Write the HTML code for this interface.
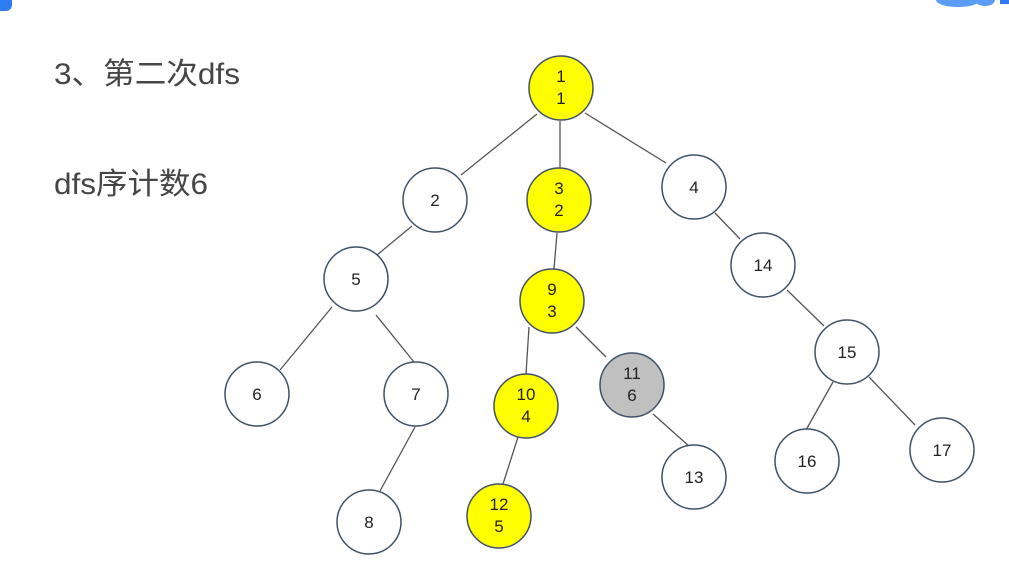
<!DOCTYPE html>
<html><head><meta charset="utf-8"><style>
html,body{margin:0;padding:0;background:#fff;width:1009px;height:586px;overflow:hidden}
svg{display:block}
</style></head><body>
<svg width="1009" height="586" viewBox="0 0 1009 586" xmlns="http://www.w3.org/2000/svg">
<rect x="-10" y="-10" width="22" height="21" rx="6" fill="#2f7cf0"/>
<ellipse cx="958" cy="0" rx="22" ry="7" fill="#5b9df5"/>
<ellipse cx="985" cy="0" rx="10" ry="6" fill="#5b9df5"/>
<rect x="1000" y="0" width="9" height="4" fill="#2f7cf0"/>
<g font-family="'Liberation Sans','Noto Sans CJK SC',sans-serif" font-size="30" fill="#454545">
<text x="54" y="84" textLength="186" lengthAdjust="spacingAndGlyphs">3、第二次dfs</text>
<text x="54" y="194" textLength="154" lengthAdjust="spacingAndGlyphs">dfs序计数6</text>
</g>
<g stroke="#555" stroke-width="1.3">
<line x1="537" y1="114" x2="461" y2="175"/>
<line x1="560" y1="121" x2="560" y2="168"/>
<line x1="585" y1="113" x2="666" y2="163"/>
<line x1="412" y1="226" x2="377" y2="255"/>
<line x1="557" y1="233" x2="554" y2="269"/>
<line x1="715" y1="213" x2="740" y2="239"/>
<line x1="332" y1="307" x2="280" y2="370"/>
<line x1="376" y1="315" x2="414" y2="362"/>
<line x1="529" y1="327" x2="526" y2="374"/>
<line x1="576" y1="327" x2="606" y2="357"/>
<line x1="787" y1="290" x2="824" y2="326"/>
<line x1="415" y1="427" x2="380" y2="491"/>
<line x1="518" y1="437" x2="503" y2="484"/>
<line x1="653" y1="414" x2="690" y2="447"/>
<line x1="833" y1="382" x2="806" y2="430"/>
<line x1="869" y1="377" x2="915" y2="425"/>
</g>
<g stroke="#3f5166" stroke-width="1.5">
<circle cx="561" cy="88" r="32" fill="#ffff00"/>
<circle cx="435" cy="200" r="32" fill="#fff"/>
<circle cx="559" cy="200" r="32" fill="#ffff00"/>
<circle cx="694" cy="187" r="32" fill="#fff"/>
<circle cx="356" cy="279" r="32" fill="#fff"/>
<circle cx="552" cy="301" r="32" fill="#ffff00"/>
<circle cx="763" cy="265" r="32" fill="#fff"/>
<circle cx="847" cy="352" r="32" fill="#fff"/>
<circle cx="257" cy="394" r="32" fill="#fff"/>
<circle cx="416" cy="394" r="32" fill="#fff"/>
<circle cx="526" cy="406" r="32" fill="#ffff00"/>
<circle cx="632" cy="385" r="32" fill="#c0c0c0"/>
<circle cx="807" cy="461" r="32" fill="#fff"/>
<circle cx="942" cy="450" r="32" fill="#fff"/>
<circle cx="369" cy="522" r="32" fill="#fff"/>
<circle cx="499" cy="516" r="32" fill="#ffff00"/>
<circle cx="694" cy="477" r="32" fill="#fff"/>
</g>
<g font-family="'Liberation Sans',sans-serif" font-size="17" fill="#222" text-anchor="middle">
<text x="561" y="82">1</text><text x="561" y="104">1</text>
<text x="435" y="206">2</text>
<text x="559" y="194">3</text><text x="559" y="216">2</text>
<text x="694" y="193">4</text>
<text x="356" y="285">5</text>
<text x="552" y="295">9</text><text x="552" y="317">3</text>
<text x="763" y="271">14</text>
<text x="847" y="358">15</text>
<text x="257" y="400">6</text>
<text x="416" y="400">7</text>
<text x="526" y="400">10</text><text x="526" y="422">4</text>
<text x="632" y="379">11</text><text x="632" y="401">6</text>
<text x="807" y="467">16</text>
<text x="942" y="456">17</text>
<text x="369" y="528">8</text>
<text x="499" y="510">12</text><text x="499" y="532">5</text>
<text x="694" y="483">13</text>
</g>
</svg>
</body></html>
